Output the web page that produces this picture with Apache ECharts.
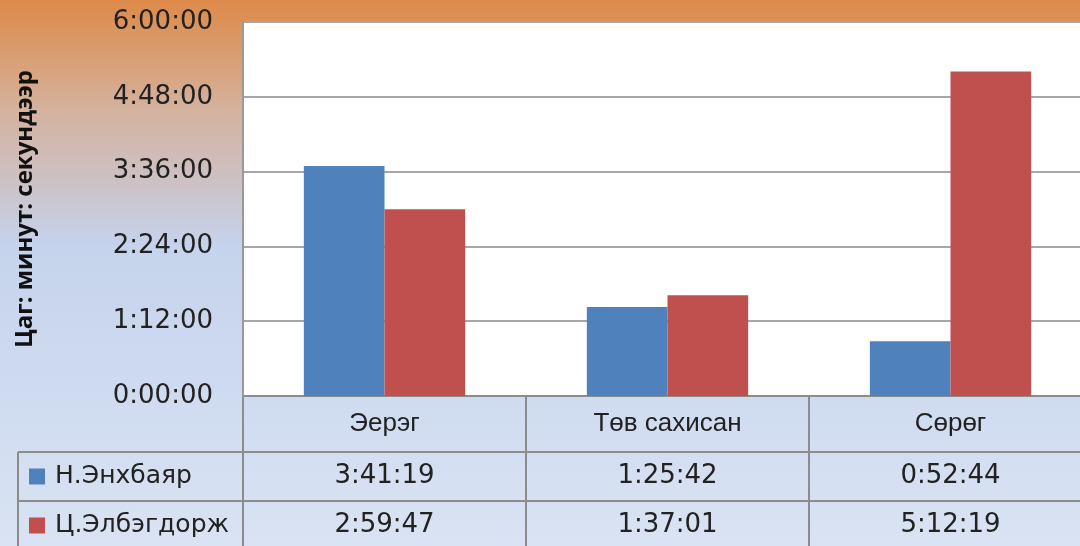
<!DOCTYPE html>
<html>
<head>
<meta charset="utf-8">
<script src="https://cdn.jsdelivr.net/npm/echarts@6/dist/echarts.min.js"></script>
<style>
  html, body { margin: 0; padding: 0; overflow: hidden; }
  #main { width: 1092px; height: 546px; }
</style>
</head>
<body>
<div id="main"></div>
<script>
// ангилал, цувралууд
var categories = ['Эерэг', 'Төв сахисан', 'Сөрөг'];
var seriesNames = ['Н.Энхбаяр', 'Ц.Элбэгдорж'];
var enkhbayar = ['3:41:19', '1:25:42', '0:52:44'];
var elbegdorj = ['2:59:47', '1:37:01', '5:12:19'];
var colors = ['#4F81BD', '#C0504D'];
var yTitle = 'Цаг: минут: секундээр';

// цаг:мин:сек -> секунд
function toSec(s) {
  var p = s.split(':');
  return (+p[0]) * 3600 + (+p[1]) * 60 + (+p[2]);
}
function pad(n) { return n < 10 ? '0' + n : '' + n; }
function toHms(v) {
  var h = Math.floor(v / 3600), m = Math.floor((v % 3600) / 60), s = Math.round(v % 60);
  return h + ':' + pad(m) + ':' + pad(s);
}

var rows = [enkhbayar, elbegdorj];

var chart = echarts.init(document.getElementById('main'));

var option = {
  animation: false,
  backgroundColor: {
    type: 'linear', x: 0, y: 0, x2: 0, y2: 1,
    colorStops: [
      { offset: 0, color: '#DD8A4A' },
      { offset: 0.1, color: '#D99D70' },
      { offset: 0.2, color: '#D4B29E' },
      { offset: 0.33, color: '#CDC1C4' },
      { offset: 0.45, color: '#C5D3EC' },
      { offset: 1, color: '#D9E3F3' }
    ]
  },
  grid: {
    left: 243, top: 22, right: 0, bottom: 150,
    show: true, backgroundColor: '#fff', borderColor: '#A0A0A0', borderWidth: 1
  },
  xAxis: {
    type: 'category',
    data: categories,
    axisLine: { show: false },
    axisTick: { show: false },
    axisLabel: { show: false }
  },
  yAxis: {
    type: 'value',
    min: 0, max: 21600, interval: 4320,
    name: yTitle,
    nameLocation: 'middle',
    nameRotate: 90,
    nameGap: 206,
    nameTextStyle: { fontFamily: 'Open Sans', fontWeight: 'bold', fontSize: 24, color: '#111' },
    axisLine: { show: true, lineStyle: { color: '#999', width: 2 } },
    axisTick: { show: false },
    axisLabel: {
      margin: 30, fontFamily: 'DejaVu Sans', fontSize: 26, color: '#222',
      formatter: function (v) { return toHms(v); }
    },
    splitLine: { lineStyle: { color: '#A6A6A6', width: 2 } }
  },
  series: seriesNames.map(function (name, i) {
    return {
      name: name,
      type: 'bar',
      data: rows[i].map(toSec),
      barGap: '0%',
      barCategoryGap: '43%',
      itemStyle: { color: colors[i] }
    };
  })
};
chart.setOption(option);

// таблица
function buildTable() {
  var c0 = chart.convertToPixel({ xAxisIndex: 0 }, categories[0]);
  var c1 = chart.convertToPixel({ xAxisIndex: 0 }, categories[1]);
  var band = c1 - c0;
  var x0 = c0 - band / 2;
  var xEnd = x0 + band * categories.length;
  var yTop = chart.convertToPixel({ yAxisIndex: 0 }, 0);
  var catH = 56, rowH = 49, leftX = 18;
  var lineStyle = { stroke: '#8C8C8C', lineWidth: 2 };
  var g = [];
  var y1 = yTop + catH, y2 = y1 + rowH, y3 = y2 + rowH + 10;

  // горизонтал шугамууд
  g.push({ type: 'line', shape: { x1: x0, y1: yTop, x2: xEnd, y2: yTop }, style: lineStyle });
  g.push({ type: 'line', shape: { x1: leftX, y1: y1, x2: xEnd, y2: y1 }, style: lineStyle });
  g.push({ type: 'line', shape: { x1: leftX, y1: y2, x2: xEnd, y2: y2 }, style: lineStyle });
  // босоо шугамууд
  g.push({ type: 'line', shape: { x1: leftX, y1: y1, x2: leftX, y2: y3 }, style: lineStyle });
  for (var k = 0; k <= categories.length; k++) {
    var xx = x0 + band * k;
    g.push({ type: 'line', shape: { x1: xx, y1: yTop, x2: xx, y2: y3 }, style: lineStyle });
  }
  // ангиллын нэрс
  categories.forEach(function (c, j) {
    g.push({
      type: 'text', x: x0 + band * (j + 0.5), y: yTop + catH / 2,
      style: { text: c, fill: '#222', fontSize: 26, fontFamily: 'Liberation Sans', align: 'center', verticalAlign: 'middle' }
    });
  });
  // цувралын мөрүүд
  seriesNames.forEach(function (name, i) {
    var cy = y1 + rowH * (i + 0.5);
    g.push({ type: 'rect', shape: { x: 29, y: cy - 8, width: 16, height: 16 }, style: { fill: colors[i] } });
    g.push({
      type: 'text', x: 55, y: cy,
      style: { text: name, fill: '#222', fontSize: 25, fontFamily: 'DejaVu Sans', align: 'left', verticalAlign: 'middle' }
    });
    rows[i].forEach(function (v, j) {
      g.push({
        type: 'text', x: x0 + band * (j + 0.5), y: cy,
        style: { text: toHms(toSec(v)), fill: '#222', fontSize: 26, fontFamily: 'DejaVu Sans', align: 'center', verticalAlign: 'middle' }
      });
    });
  });
  chart.setOption({ graphic: g });
}
buildTable();
</script>
</body>
</html>
